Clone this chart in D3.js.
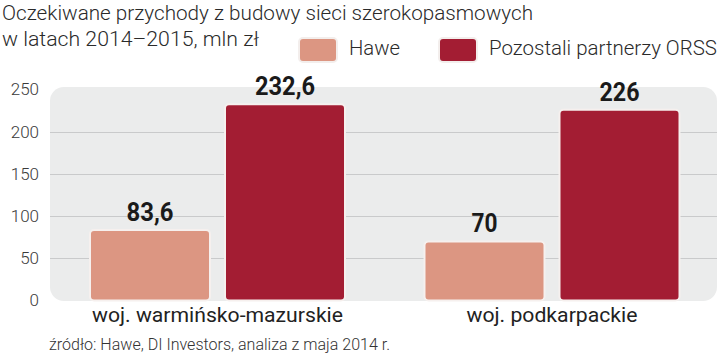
<!DOCTYPE html>
<html><head><meta charset="utf-8">
<script src="https://cdn.jsdelivr.net/npm/d3@7"></script>
<style>
body{margin:0;background:#fff;}
svg{display:block;}
</style></head>
<body>
<svg id="c" width="720" height="355"></svg>
<script>
const categories = ["woj. warmińsko-mazurskie", "woj. podkarpackie"];
const seriesNames = ["Hawe", "Pozostali partnerzy ORSS"];
const haweValues = [83.6, 70];
const otherValues = [232.6, 226];
const valueLabels = [["83,6", "70"], ["232,6", "226"]];
const yTicks = [0, 50, 100, 150, 200, 250];
const colors = ["#dc9682", "#a31d33"];
const titleLines = ["Oczekiwane przychody z budowy sieci szerokopasmowych", "w latach 2014–2015, mln zł"];
const sourceText = "źródło: Hawe, DI Investors, analiza z maja 2014 r.";

const svg = d3.select("#c");
const font = "'Roboto','Liberation Sans',sans-serif";

function fit(sel, w) {
  sel.attr("textLength", w).attr("lengthAdjust", "spacingAndGlyphs");
}

const y = d3.scaleLinear().domain([0, 250]).range([300.5, 89.5]);
const x0 = d3.scaleBand().domain(categories).range([50.25, 719.25]).padding(0);
const x1 = d3.scaleBand().domain(seriesNames).range([39.75, 294.75]).paddingInner(15/135).paddingOuter(0);

// panel
svg.append("rect").attr("x", 50).attr("y", 87).attr("width", 667).attr("height", 214)
  .attr("rx", 14).attr("fill", "#ebecec");

// gridlines
svg.append("g").selectAll("line").data(yTicks.filter(d => d > 0 && d < 250)).join("line")
  .attr("x1", 50).attr("x2", 717)
  .attr("y1", d => Math.round(y(d)) + 0.5).attr("y2", d => Math.round(y(d)) + 0.5)
  .attr("stroke", "#c9cacb").attr("stroke-width", 1.2);

// y axis
const yAxis = d3.axisLeft(y).tickValues(yTicks).tickSize(0).tickPadding(0);
const ga = svg.append("g").attr("transform", "translate(39,0)").call(yAxis);
ga.select(".domain").remove();
ga.selectAll("text").attr("font-family", font).attr("font-size", 17).attr("fill", "#3a3a3a")
  .attr("font-weight", 300);

const data = categories.map((c, i) => ({cat: c, vals: [haweValues[i], otherValues[i]]}));

const groups = svg.append("g").selectAll("g").data(data).join("g")
  .attr("transform", d => `translate(${x0(d.cat)},0)`);

groups.selectAll("rect").data((d, i) => d.vals.map((v, j) => ({v, j, i})))
  .join("rect")
  .attr("x", d => x1(seriesNames[d.j]))
  .attr("y", d => y(d.v))
  .attr("width", x1.bandwidth())
  .attr("height", d => y(0) - y(d.v))
  .attr("rx", 4)
  .attr("fill", d => colors[d.j])
  .attr("stroke", "#f6f0ee").attr("stroke-width", 2);

const valW = [[47, 26], [60, 40]];
groups.selectAll("text.val").data((d, i) => d.vals.map((v, j) => ({v, j, i})))
  .join("text").attr("class", "val")
  .attr("x", d => x1(seriesNames[d.j]) + x1.bandwidth() / 2 - valW[d.j][d.i] / 2)
  .attr("y", d => y(d.v) - 9)
  .attr("font-family", font).attr("font-weight", "bold").attr("font-size", 26)
  .attr("fill", "#1a1a1a")
  .attr("textLength", d => valW[d.j][d.i]).attr("lengthAdjust", "spacingAndGlyphs")
  .text(d => valueLabels[d.j][d.i]);

// category labels
const catW = [251, 171];
svg.append("g").selectAll("text").data(categories).join("text")
  .attr("x", (d, i) => x0(d) + x0.bandwidth() / 2 - catW[i] / 2)
  .attr("y", 322)
  .attr("font-family", font).attr("font-size", 19.5).attr("fill", "#222")
  .attr("textLength", (d, i) => catW[i]).attr("lengthAdjust", "spacingAndGlyphs")
  .text(d => d);

// title
const titleW = [531, 257];
svg.append("g").selectAll("text").data(titleLines).join("text")
  .attr("x", 2).attr("y", (d, i) => 20 + i * 26)
  .attr("font-family", font).attr("font-size", 21).attr("font-weight", 300).attr("fill", "#2a2a2a")
  .attr("textLength", (d, i) => titleW[i]).attr("lengthAdjust", "spacingAndGlyphs")
  .text(d => d);

// legend
const legX = [299, 439];
const legW = [51, 228];
const lg = svg.append("g").selectAll("g").data(seriesNames).join("g")
  .attr("transform", (d, i) => `translate(${legX[i]},38)`);
lg.append("rect").attr("width", 38).attr("height", 24).attr("rx", 4)
  .attr("fill", (d, i) => colors[i]).attr("stroke", "#f3eeec").attr("stroke-width", 2);
lg.append("text").attr("x", 50).attr("y", 17)
  .attr("font-family", font).attr("font-size", 20).attr("font-weight", 300).attr("fill", "#2a2a2a")
  .attr("textLength", (d, i) => legW[i]).attr("lengthAdjust", "spacingAndGlyphs")
  .text(d => d);

// source
svg.append("text").attr("x", 49).attr("y", 350)
  .attr("font-family", font).attr("font-size", 17).attr("font-weight", 300).attr("fill", "#333")
  .call(fit, 341)
  .text(sourceText);
</script>
</body></html>
